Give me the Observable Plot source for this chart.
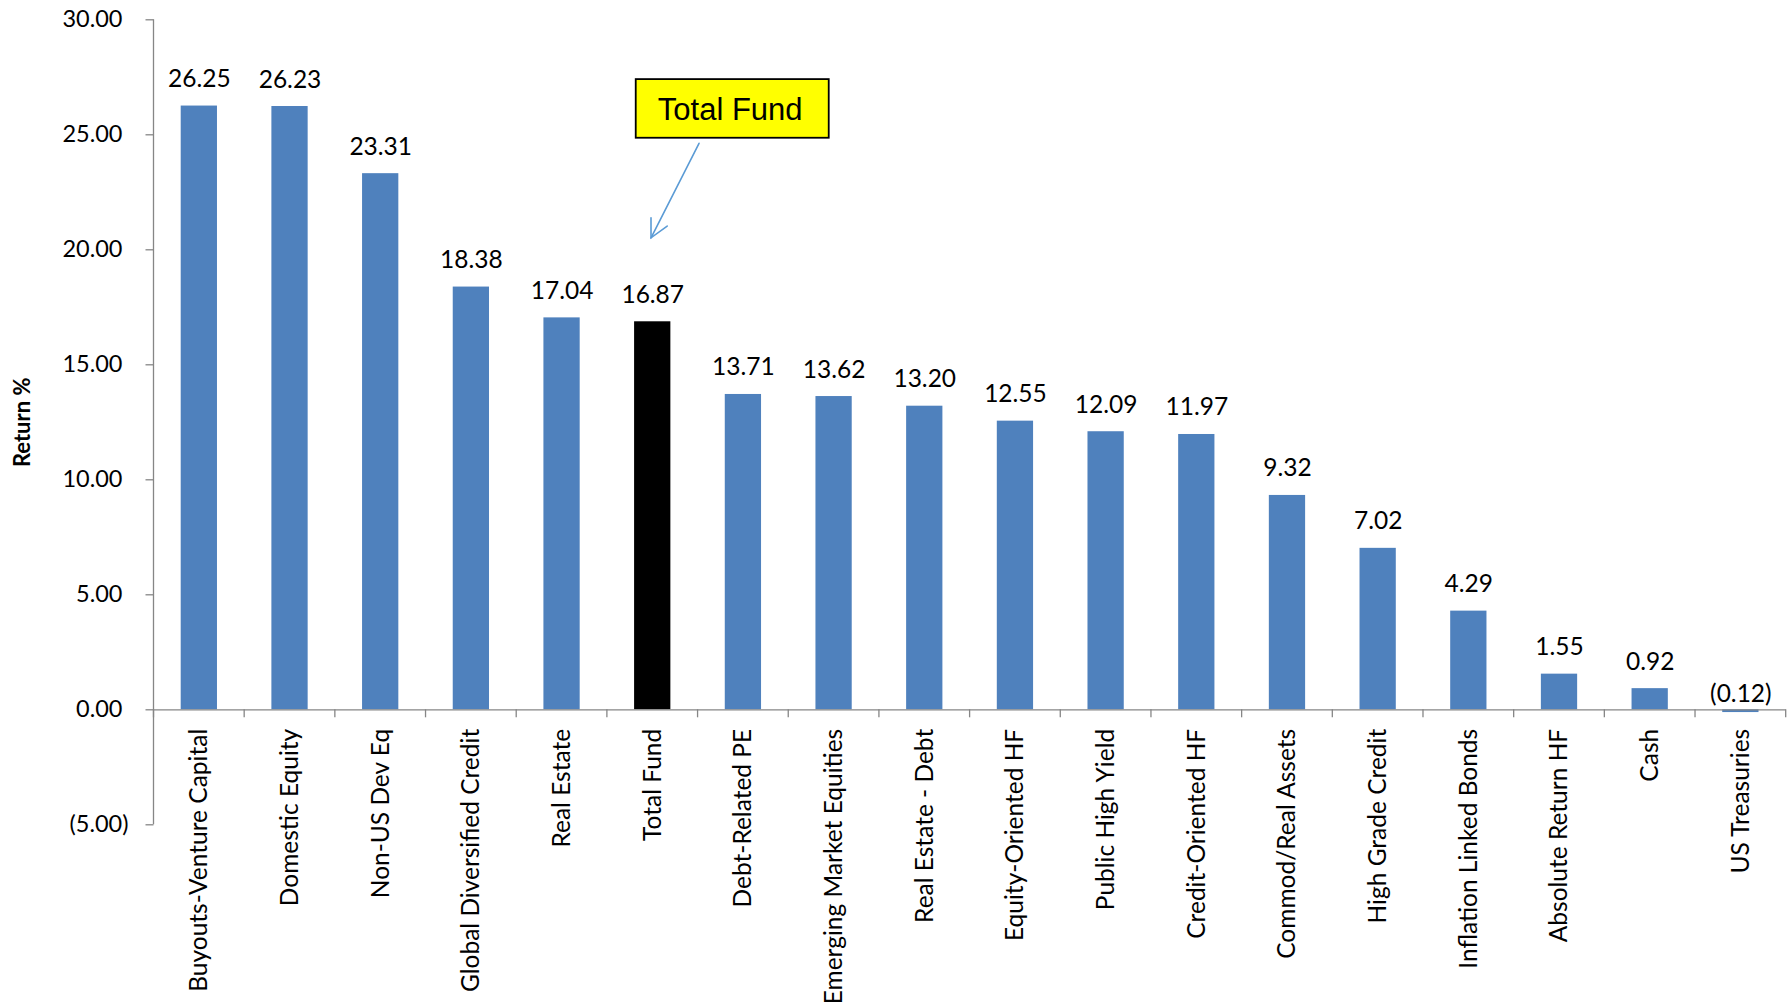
<!DOCTYPE html>
<html>
<head>
<meta charset="utf-8">
<script src="https://cdn.jsdelivr.net/npm/d3@7"></script>
<script src="https://cdn.jsdelivr.net/npm/@observablehq/plot@0.6"></script>
<style>
  html, body { margin: 0; padding: 0; background: #fff; }
  #chart svg { display: block; }
</style>
</head>
<body>
<div id="chart"></div>
<script>
// ---- Data ----
const categories = [
  "Buyouts-Venture Capital", "Domestic Equity", "Non-US Dev Eq", "Global Diversified Credit",
  "Real Estate", "Total Fund", "Debt-Related PE", "Emerging Market Equities",
  "Real Estate - Debt", "Equity-Oriented HF", "Public High Yield", "Credit-Oriented HF",
  "Commod/Real Assets", "High Grade Credit", "Inflation Linked Bonds", "Absolute Return HF",
  "Cash", "US Treasuries"
];
const returns = [
  26.25, 26.23, 23.31, 18.38,
  17.04, 16.87, 13.71, 13.62,
  13.20, 12.55, 12.09, 11.97,
  9.32, 7.02, 4.29, 1.55,
  0.92, -0.12
];
const yTicks = [-5, 0, 5, 10, 15, 20, 25, 30];
const highlightCategory = "Total Fund";
const yLabel = "Return %";
const annotationText = "Total Fund";

// ---- Styling ----
const BLUE = "#4F81BD";
const AXIS = "#868686";
const FONT = "Lato, 'Open Sans', sans-serif";

const data = categories.map((c, i) => ({category: c, value: returns[i]}));
const fmt = v => v < 0 ? `(${Math.abs(v).toFixed(2)})` : v.toFixed(2);
const yMin = d3.min(yTicks), yMax = d3.max(yTicks);

// Axis lines + category boundary ticks (Excel-style)
function axisLines(index, scales, values, dims) {
  const {x, y} = scales;
  const g = d3.create("svg:g").attr("stroke", AXIS).attr("stroke-width", 1.3).attr("fill", "none");
  const x0 = dims.marginLeft;
  g.append("line").attr("x1", x0).attr("x2", x0).attr("y1", y(yMax)).attr("y2", y(yMin));
  const step = x.step();
  const bounds = categories.map(c => x(c) + x.bandwidth() / 2 - step / 2);
  bounds.push(x(categories[categories.length - 1]) + x.bandwidth() / 2 + step / 2);
  for (const bx of bounds) {
    g.append("line").attr("x1", bx).attr("x2", bx).attr("y1", y(0)).attr("y2", y(0) + 8);
  }
  return g.node();
}

// Annotation box + arrow pointing at the highlighted bar
function annotation(index, scales) {
  const {x, y} = scales;
  const cx = x(highlightCategory) + x.bandwidth() / 2;
  const g = d3.create("svg:g");
  const bx0 = cx - 16.5, bx1 = cx + 176.5, by0 = y(27.40), by1 = y(24.85);
  g.append("rect").attr("x", bx0).attr("y", by0).attr("width", bx1 - bx0).attr("height", by1 - by0)
    .attr("fill", "#FFFF00").attr("stroke", "#000").attr("stroke-width", 1.8);
  g.append("text").attr("x", (bx0 + bx1) / 2 - 2).attr("y", (by0 + by1) / 2)
    .attr("text-anchor", "middle").attr("dy", "0.36em")
    .attr("font-family", "'Liberation Sans', Arial, sans-serif").attr("font-size", 31)
    .attr("fill", "#000").text(annotationText);
  const sx = cx + 46.8, sy = y(24.61), ex = cx - 1.2, ey = y(20.50);
  const ang = Math.atan2(ey - sy, ex - sx);
  const hl = 20, ha = 27 * Math.PI / 180;
  const p = g.append("g").attr("stroke", "#5B9BD5").attr("stroke-width", 1.6).attr("fill", "none").attr("stroke-linecap", "round");
  p.append("line").attr("x1", sx).attr("y1", sy).attr("x2", ex).attr("y2", ey);
  p.append("path").attr("d",
    `M${ex - hl * Math.cos(ang - ha)},${ey - hl * Math.sin(ang - ha)}L${ex},${ey}L${ex - hl * Math.cos(ang + ha)},${ey - hl * Math.sin(ang + ha)}`);
  return g.node();
}

const positives = data.filter(d => d.value >= 0);
const negatives = data.filter(d => d.value < 0);

const chart = Plot.plot({
  width: 1791,
  height: 1006,
  marginLeft: 153.5,
  marginRight: 5.3,
  marginTop: 19.3,
  marginBottom: 181.7,
  style: {fontFamily: FONT, background: "#fff", color: "#000"},
  x: {domain: categories, paddingInner: 0.6, paddingOuter: 0.3, round: false, axis: null},
  y: {domain: [yMin, yMax], axis: null},
  marks: [
    Plot.barY(data.filter(d => d.category !== highlightCategory), {x: "category", y: "value", fill: BLUE}),
    Plot.barY(data.filter(d => d.category === highlightCategory), {x: "category", y: "value", fill: "#000"}),
    Plot.ruleY([0], {stroke: AXIS, strokeWidth: 1.3}),
    axisLines,
    Plot.axisY({ticks: yTicks.filter(t => t >= 0), tickFormat: fmt, tickSize: 8, tickPadding: 23.5,
      stroke: AXIS, strokeWidth: 1.3, fill: "#000", fontSize: 23.5, label: null}),
    Plot.axisY({ticks: yTicks.filter(t => t < 0), tickFormat: fmt, tickSize: 8, tickPadding: 17.5,
      stroke: AXIS, strokeWidth: 1.3, fill: "#000", fontSize: 23.5, label: null}),
    Plot.text(positives, {x: "category", y: "value", text: d => fmt(d.value), dy: -19,
      lineAnchor: "bottom", fontSize: 24.5, fill: "#000"}),
    Plot.text(negatives, {x: "category", y: () => 0, text: d => fmt(d.value), dy: -8,
      lineAnchor: "bottom", fontSize: 24.5, fill: "#000"}),
    Plot.text(data, {x: "category", y: () => 0, text: "category", rotate: -90, textAnchor: "end",
      lineAnchor: "middle", dy: 19, fontSize: 24.5, fill: "#000"}),
    Plot.text([yLabel], {frameAnchor: "left", y: () => (yMin + yMax) / 2, text: d => d, rotate: -90, dx: -131,
      textAnchor: "middle", lineAnchor: "middle", fontSize: 22, fontWeight: "bold", fill: "#000"}),
    annotation
  ]
});
document.getElementById("chart").appendChild(chart);
</script>
</body>
</html>
